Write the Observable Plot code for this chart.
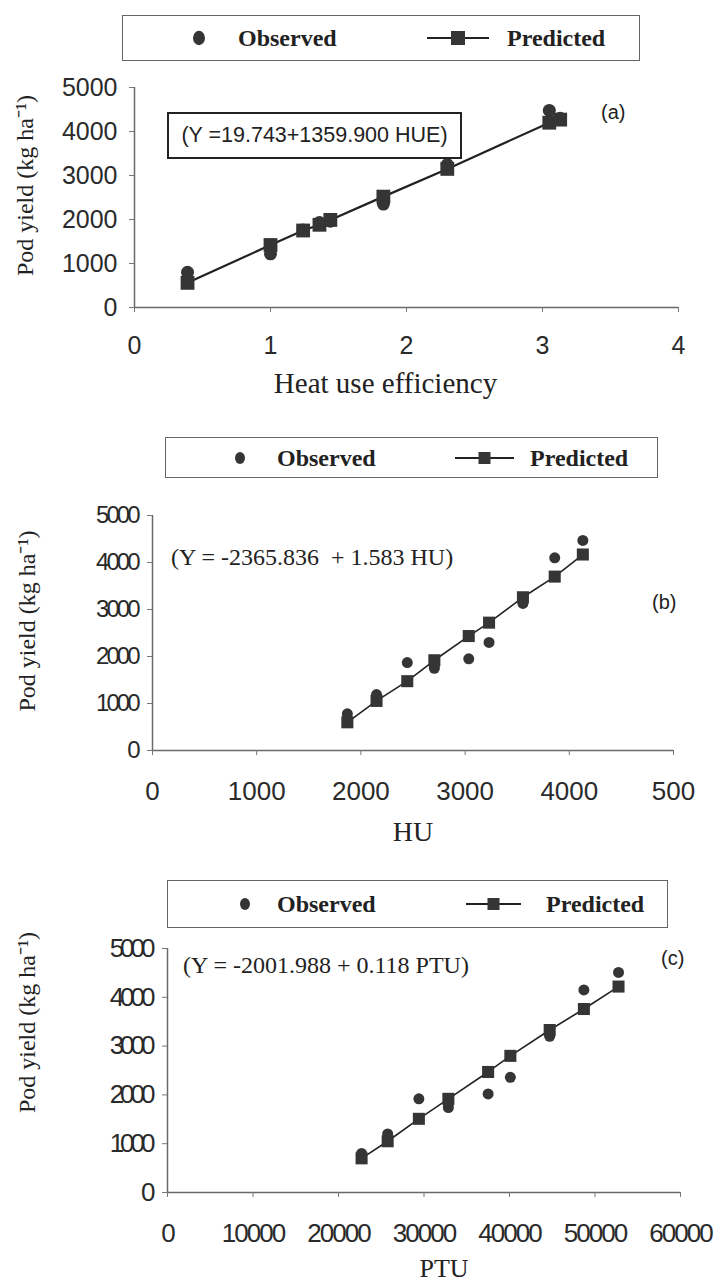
<!DOCTYPE html>
<html>
<head>
<meta charset="utf-8">
<script src="https://cdn.jsdelivr.net/npm/d3@7"></script>
<script src="https://cdn.jsdelivr.net/npm/@observablehq/plot@0.6"></script>
<style>
  html, body { margin: 0; padding: 0; background: #fff; }
  #root { position: relative; width: 717px; height: 1285px; overflow: hidden; background: #fff; }
  .abs { position: absolute; white-space: nowrap; }
  .legend { position: absolute; border: 1.5px solid #666; box-sizing: border-box; }
  .leg-text { font-family: "Liberation Serif", "Times New Roman", serif; font-weight: bold; font-size: 24px; color: #222; }
  #panel-b [aria-label="y-axis tick label"] text { letter-spacing: -3px; }
  #panel-c [aria-label="y-axis tick label"] text { letter-spacing: -4px; }
  #panel-c [aria-label="x-axis tick label"] text { letter-spacing: -2px; }
</style>
</head>
<body>
<div id="root"></div>
<script>
// ---------- DATA ----------
const yTicks = [0, 1000, 2000, 3000, 4000, 5000];

// Panel (a): heat use efficiency
const hueValues   = [0.39, 1.00, 1.24, 1.36, 1.44, 1.83, 2.30, 3.05, 3.13];
const hueObserved = [800, 1220, 1760, 1930, 1960, 2350, 3250, 4480, 4300];
const huePredicted = [560, 1420, 1750, 1880, 1990, 2520, 3150, 4200, 4270];
const xTicksA = [0, 1, 2, 3, 4];
const xTickLabelsA = ["0", "1", "2", "3", "4"];

// Panel (b): heat units
const huUnits    = [1870, 2150, 2445, 2705, 2705, 3035, 3230, 3555, 3860, 4130];
const huObserved = [780, 1190, 1870, 1750, 1830, 1950, 2300, 3130, 4100, 4470];
const huPredUnits = [1870, 2150, 2445, 2705, 3035, 3230, 3555, 3860, 4130];
const huPredicted = [600, 1055, 1475, 1920, 2435, 2720, 3260, 3700, 4170];
const xTicksB = [0, 1000, 2000, 3000, 4000, 5000];
const xTickLabelsB = ["0", "1000", "2000", "3000", "4000", "500"];

// Panel (c): photothermal units
const ptuUnits    = [22700, 25750, 29400, 32850, 32850, 37500, 40100, 44700, 48700, 52750];
const ptuObserved = [800, 1200, 1920, 1740, 1820, 2020, 2360, 3200, 4150, 4510];
const ptuPredUnits = [22700, 25750, 29400, 32850, 37500, 40100, 44700, 48700, 52750];
const ptuPredicted = [700, 1050, 1510, 1920, 2470, 2800, 3330, 3760, 4220];
const xTicksC = [0, 10000, 20000, 30000, 40000, 50000, 60000];
const xTickLabelsC = ["0", "10000", "20000", "30000", "40000", "50000", "60000"];

const legendLabels = ["Observed", "Predicted"];
const yTitle = "Pod yield (kg ha\u207B\u00B9)";
const xTitles = ["Heat use efficiency", "HU", "PTU"];
const equations = ["(Y =19.743+1359.900 HUE)", "(Y = -2365.836  + 1.583 HU)", "(Y = -2001.988 + 0.118 PTU)"];
const panelTags = ["(a)", "(b)", "(c)"];

// ---------- HELPERS ----------
const root = document.getElementById("root");
const SERIF = "Liberation Serif, Times New Roman, serif";
const SANS = "Liberation Sans, Arial, sans-serif";

function zip(xs, ys) { return xs.map((x, i) => ({x, y: ys[i]})); }

function makePanel(cfg) {
  const obs = zip(cfg.xObs, cfg.yObs);
  const pred = zip(cfg.xPred, cfg.yPred);
  const labelMap = new Map(cfg.xTicks.map((t, i) => [t, cfg.xTickLabels[i]]));
  const chart = Plot.plot({
    width: 717,
    height: cfg.height,
    marginTop: cfg.mt, marginBottom: cfg.mb, marginLeft: cfg.ml, marginRight: cfg.mr,
    style: {background: "transparent", overflow: "visible"},
    x: {domain: cfg.xDomain},
    y: {domain: [0, 5000]},
    marks: [
      Plot.ruleY([0], {stroke: "#6a6a6a", strokeWidth: 1.5}),
      Plot.ruleX([0], {stroke: "#6a6a6a", strokeWidth: 1.5}),
      Plot.axisY({ticks: yTicks, tickFormat: d => String(d), tickSize: 5, tickPadding: cfg.yPad,
        fontSize: cfg.yFont, fontFamily: SANS, fill: "#2a2a2a", stroke: "#777", label: null}),
      Plot.axisX({ticks: cfg.xTicks, tickFormat: d => labelMap.get(d), tickSize: 5, tickPadding: cfg.xPad,
        fontSize: cfg.xFont, fontFamily: SANS, fill: "#2a2a2a", stroke: "#777", label: null}),
      Plot.line(pred, {x: "x", y: "y", stroke: "#222", strokeWidth: cfg.lineW}),
      Plot.dot(pred, {x: "x", y: "y", symbol: "square", r: cfg.sqR, fill: "#353535", stroke: "none"}),
      Plot.dot(obs, {x: "x", y: "y", symbol: "circle", r: cfg.cR, fill: "#353535", stroke: "none"}),
      Plot.text([cfg.xTitle], {frameAnchor: "bottom", dy: cfg.xtDy, dx: cfg.xtDx, lineAnchor: "middle",
        fontSize: cfg.xtFont, fontFamily: SERIF, fill: "#222"}),
      Plot.text([yTitle], {frameAnchor: "left", rotate: -90, dx: cfg.ytDx, dy: cfg.ytDy, textAnchor: "middle",
        lineAnchor: "middle", fontSize: 24, fontFamily: SERIF, fill: "#222"})
    ]
  });
  const wrap = document.createElement("div");
  wrap.className = "abs";
  wrap.id = cfg.id;
  wrap.style.left = "0px";
  wrap.style.top = cfg.top + "px";
  wrap.appendChild(chart);
  root.appendChild(wrap);
}

function addLegend(L) {
  const box = document.createElement("div");
  box.className = "legend";
  box.style.left = L.x0 + "px"; box.style.top = L.y0 + "px";
  box.style.width = (L.x1 - L.x0) + "px"; box.style.height = (L.y1 - L.y0) + "px";
  root.appendChild(box);
  const cy = (L.y0 + L.y1) / 2;
  const svgNS = "http://www.w3.org/2000/svg";
  const sym = document.createElementNS(svgNS, "svg");
  sym.setAttribute("width", 717); sym.setAttribute("height", 60);
  sym.style.position = "absolute"; sym.style.left = "0px"; sym.style.top = (cy - 30) + "px";
  sym.innerHTML =
    `<ellipse cx="${L.cx}" cy="30" rx="${L.cr}" ry="${L.cr * 1.2}" fill="#353535"/>` +
    `<line x1="${L.lx0}" x2="${L.lx1}" y1="30" y2="30" stroke="#222" stroke-width="2"/>` +
    `<rect x="${(L.lx0 + L.lx1) / 2 - L.sq / 2}" y="${30 - L.sq / 2}" width="${L.sq}" height="${L.sq}" fill="#353535"/>`;
  root.appendChild(sym);
  [[legendLabels[0], L.t0], [legendLabels[1], L.t1]].forEach(([t, x]) => {
    const d = document.createElement("div");
    d.className = "abs leg-text";
    d.textContent = t;
    d.style.left = x + "px"; d.style.top = (cy - 15) + "px"; d.style.lineHeight = "30px";
    root.appendChild(d);
  });
}

function addText(t, x, cy, font, size, extra) {
  const d = document.createElement("div");
  d.className = "abs";
  d.textContent = t;
  d.style.left = x + "px";
  d.style.top = (cy - size * 0.6) + "px";
  d.style.lineHeight = (size * 1.2) + "px";
  d.style.fontFamily = font;
  d.style.fontSize = size + "px";
  d.style.color = "#222";
  Object.assign(d.style, extra || {});
  root.appendChild(d);
  return d;
}

// ---------- PANEL (a) ----------
addLegend({x0: 122, x1: 640, y0: 15, y1: 61, cx: 199, cr: 6, lx0: 427, lx1: 489, sq: 14, t0: 238, t1: 507});
makePanel({
  id: "panel-a",
  top: 70, height: 327, mt: 17, mb: 90, ml: 134, mr: 39,
  xDomain: [0, 4], xTicks: xTicksA, xTickLabels: xTickLabelsA,
  xObs: hueValues, yObs: hueObserved, xPred: hueValues, yPred: huePredicted,
  yPad: 12, xPad: 24, yFont: 25, xFont: 25,
  lineW: 2.2, sqR: 7.8, cR: 6.5,
  xTitle: xTitles[0], xtDy: 76, xtDx: -21, xtFont: 29, ytDx: -109, ytDy: -12
});
addText(equations[0], 167, 135.5, SANS, 21.5, {
  width: "295px", height: "47px", top: "112px", lineHeight: "43px", textAlign: "center",
  border: "2px solid #222", boxSizing: "border-box", background: "#fff"
});
addText(panelTags[0], 601, 112, SANS, 20);

// ---------- PANEL (b) ----------
addLegend({x0: 165, x1: 658, y0: 437, y1: 478, cx: 240, cr: 5, lx0: 455, lx1: 514, sq: 12, t0: 277, t1: 530});
makePanel({
  id: "panel-b",
  top: 490, height: 370, mt: 25, mb: 110, ml: 152, mr: 44,
  xDomain: [0, 5000], xTicks: xTicksB, xTickLabels: xTickLabelsB,
  xObs: huUnits, yObs: huObserved, xPred: huPredUnits, yPred: huPredicted,
  yPad: 10, xPad: 26, yFont: 24, xFont: 26,
  lineW: 1.6, sqR: 6.8, cR: 5.5,
  xTitle: xTitles[1], xtDy: 82, xtDx: 0, xtFont: 28, ytDx: -125, ytDy: -12
});
addText(equations[1], 171, 557, SERIF, 24, {whiteSpace: "pre"});
addText(panelTags[1], 652, 602, SANS, 20);

// ---------- PANEL (c) ----------
addLegend({x0: 167, x1: 668, y0: 880, y1: 928, cx: 245, cr: 5, lx0: 466, lx1: 521, sq: 12, t0: 277, t1: 546});
makePanel({
  id: "panel-c",
  top: 930, height: 355, mt: 18, mb: 93, ml: 167, mr: 37,
  xDomain: [0, 60000], xTicks: xTicksC, xTickLabels: xTickLabelsC,
  xObs: ptuUnits, yObs: ptuObserved, xPred: ptuPredUnits, yPred: ptuPredicted,
  yPad: 11, xPad: 26, yFont: 26, xFont: 26,
  lineW: 1.6, sqR: 6.8, cR: 5.5,
  xTitle: xTitles[2], xtDy: 76, xtDx: 20, xtFont: 26, ytDx: -140, ytDy: -48
});
addText(equations[2], 183, 965, SERIF, 24, {whiteSpace: "pre"});
addText(panelTags[2], 661, 958, SANS, 20);
</script>
</body>
</html>
